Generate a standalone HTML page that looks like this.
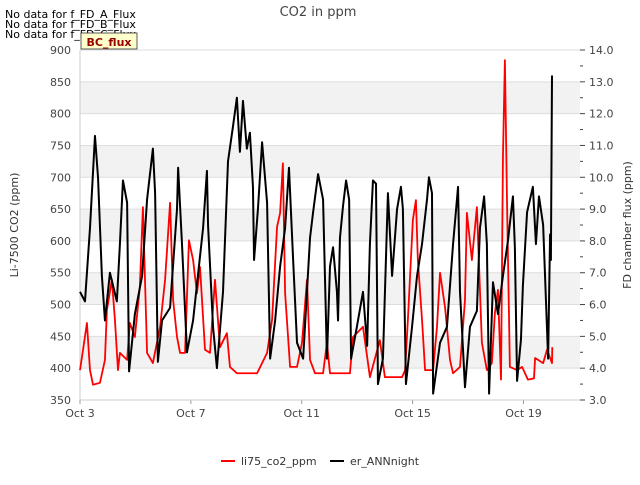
<!DOCTYPE html>
<html><head><meta charset="utf-8"><style>
body{margin:0;background:#fff;font-family:"Liberation Sans","DejaVu Sans",sans-serif}
svg text{font-family:"DejaVu Sans","Liberation Sans",sans-serif}
</style></head><body>
<svg id="chart" width="640" height="480" viewBox="0 0 640 480" xmlns="http://www.w3.org/2000/svg">
<text x="318" y="16" font-size="13" fill="#444" text-anchor="middle">CO2 in ppm</text>
<text x="5" y="18" font-size="11" fill="#000">No data for f_FD_A_Flux</text>
<text x="5" y="28" font-size="11" fill="#000">No data for f_FD_B_Flux</text>
<text x="5" y="38" font-size="11" fill="#000">No data for f_FD_C_Flux</text>
<g id="plot"></g>
<g>
<rect x="81" y="33" width="56" height="16" fill="#ffffcc" stroke="#333" stroke-width="0.8"/>
<text x="109" y="46" font-size="11" font-weight="bold" fill="#990000" text-anchor="middle">BC_flux</text>
</g>
<text transform="translate(18,225) rotate(-90)" font-size="11" fill="#333" text-anchor="middle">Li-7500 CO2 (ppm)</text>
<text transform="translate(631,225) rotate(-90)" font-size="11" fill="#333" text-anchor="middle">FD chamber flux (ppm)</text>
<g>
<line x1="221" y1="461" x2="235" y2="461" stroke="#f00" stroke-width="2"/>
<text x="241" y="465" font-size="11" fill="#333">li75_co2_ppm</text>
<line x1="330" y1="461" x2="344" y2="461" stroke="#000" stroke-width="2"/>
<text x="350" y="465" font-size="11" fill="#333">er_ANNnight</text>
</g>
</svg>
<script>
const xTickLabels=["Oct 3","Oct 7","Oct 11","Oct 15","Oct 19"];
const xTickDays=[0,4,8,12,16];
const leftTicks=[350,400,450,500,550,600,650,700,750,800,850,900];
const rightTicks=[3,4,5,6,7,8,9,10,11,12,13,14];
const redDays=[0,.11,.25,.36,.47,.72,.90,.97,1.15,1.26,1.37,1.44,1.70,1.80,1.98,2.16,2.27,2.42,2.63,2.89,3.07,3.25,3.36,3.50,3.61,3.79,3.93,4.08,4.22,4.33,4.51,4.69,4.87,5.05,5.30,5.41,5.66,6.39,6.75,6.93,7.11,7.22,7.32,7.40,7.58,7.83,8.01,8.19,8.30,8.48,8.77,8.91,9.02,9.74,9.85,10.21,10.36,10.46,10.82,11.00,11.44,11.62,11.73,11.83,12.01,12.12,12.19,12.34,12.45,12.74,12.88,12.99,13.17,13.35,13.46,13.71,13.89,13.96,14.14,14.32,14.50,14.68,14.86,14.97,15.08,15.19,15.26,15.33,15.41,15.51,15.77,15.95,16.16,16.38,16.42,16.71,16.85,17.03,17.04];
const redPpm=[397,429,471,397,374,377,413,491,539,476,397,424,413,471,449,528,653,424,408,465,539,660,507,449,424,424,601,570,518,559,429,424,539,433,455,402,392,392,424,476,622,644,722,518,402,402,440,539,413,392,392,440,392,392,449,465,418,386,444,386,386,386,397,476,633,664,570,476,397,397,465,550,496,413,392,402,507,644,570,653,440,397,408,487,523,382,732,884,653,402,397,402,382,384,416,408,429,408,433];
const blackDays=[0,.18,.36,.54,.65,.79,.90,1.08,1.33,1.44,1.55,1.70,1.77,1.98,2.24,2.42,2.63,2.71,2.81,2.96,3.25,3.50,3.54,3.68,3.86,4.08,4.44,4.58,4.62,4.80,4.94,5.16,5.34,5.52,5.66,5.77,5.88,6.02,6.13,6.24,6.28,6.42,6.57,6.75,6.86,7.04,7.22,7.40,7.54,7.69,7.83,8.05,8.30,8.41,8.59,8.77,8.91,9.02,9.13,9.27,9.31,9.38,9.49,9.60,9.71,9.78,9.99,10.21,10.36,10.46,10.57,10.68,10.75,10.93,11.11,11.26,11.44,11.58,11.65,11.76,11.98,12.16,12.34,12.52,12.59,12.70,12.74,12.99,13.24,13.46,13.64,13.71,13.89,14.07,14.32,14.43,14.58,14.68,14.76,14.90,15.08,15.26,15.44,15.62,15.69,15.77,15.91,15.98,16.13,16.34,16.45,16.56,16.71,16.89,16.96,16.99,17.03];
const blackFlux=[6.4,6.1,8.4,11.3,10.0,6.9,5.5,7.0,6.1,7.9,9.9,9.2,3.9,5.7,6.9,9.3,10.9,9.5,4.2,5.5,5.9,9.0,10.3,7.9,4.5,5.5,8.4,10.2,8.5,5.3,4.0,6.4,10.5,11.6,12.5,10.8,12.4,10.9,11.4,9.7,7.4,9.0,11.1,9.2,4.3,5.5,7.2,8.4,10.3,7.4,4.8,4.3,8.1,8.9,10.1,9.3,4.3,7.2,7.8,6.4,5.5,8.1,9.1,9.9,9.3,4.3,5.3,6.4,4.7,7.9,9.9,9.8,3.5,4.3,9.5,6.9,9.0,9.7,9.0,3.5,5.3,6.9,7.9,9.3,10.0,9.5,3.2,4.8,5.3,7.9,9.7,6.4,3.4,5.3,5.8,8.4,9.4,7.9,3.2,6.7,5.7,6.9,8.0,9.4,7.8,3.6,4.9,6.6,8.9,9.7,7.9,9.4,8.5,4.3,8.2,7.4,13.2];
const NS="http://www.w3.org/2000/svg";
const X0=80,X1=580,Y0=50,Y1=400,DMAX=18.04;
function xs(d){return X0+d*(X1-X0)/DMAX;}
function yl(v){return Y1-(v-350)*(Y1-Y0)/550;}
function yr(v){return Y1-(v-3)*(Y1-Y0)/11;}
const g=document.getElementById('plot');
function mk(t,a){const e=document.createElementNS(NS,t);for(const k in a)e.setAttribute(k,a[k]);g.appendChild(e);return e;}
// bands
for(let i=0;i<leftTicks.length-1;i++){
  if(i%2===1){const r=mk('rect',{x:X0,y:yl(leftTicks[i+1]),width:X1-X0,height:yl(leftTicks[i])-yl(leftTicks[i+1]),fill:'#f2f2f2'});
  
  }
}
leftTicks.forEach(v=>{const l=mk('line',{x1:X0,x2:X1,y1:yl(v),y2:yl(v),stroke:'#ddd','stroke-width':1});


const t=mk('text',{x:X0-9,y:yl(v)+4,'font-size':11,fill:'#444','text-anchor':'end'});t.textContent=v;

});
xTickDays.forEach((d,i)=>{const t=mk('text',{x:xs(d),y:Y1+17,'font-size':11,fill:'#444','text-anchor':'middle'});t.textContent=xTickLabels[i];


mk('line',{x1:xs(d),x2:xs(d),y1:Y1,y2:Y1+4,stroke:'#999'});});
rightTicks.forEach(v=>{mk('line',{x1:X1,x2:X1+5,y1:yr(v),y2:yr(v),stroke:'#444'});
if(v<14)mk('line',{x1:X1,x2:X1+3,y1:yr(v+.5),y2:yr(v+.5),stroke:'#444'});
const t=mk('text',{x:X1+9,y:yr(v)+4,'font-size':11,fill:'#444'});t.textContent=v.toFixed(1);

});
mk('line',{x1:X0,x2:X0,y1:Y0,y2:Y1,stroke:'#ccc'});
mk('line',{x1:X0,x2:X1,y1:Y1,y2:Y1,stroke:'#ccc'});
const rp=mk('polyline',{points:redDays.map((d,i)=>xs(d)+','+yl(redPpm[i])).join(' '),fill:'none',stroke:'#f00','stroke-width':1.8,'stroke-linejoin':'round'});


const bp=mk('polyline',{points:blackDays.map((d,i)=>xs(d)+','+yr(blackFlux[i])).join(' '),fill:'none',stroke:'#000','stroke-width':2,'stroke-linejoin':'round'});


</script>
</body></html>
